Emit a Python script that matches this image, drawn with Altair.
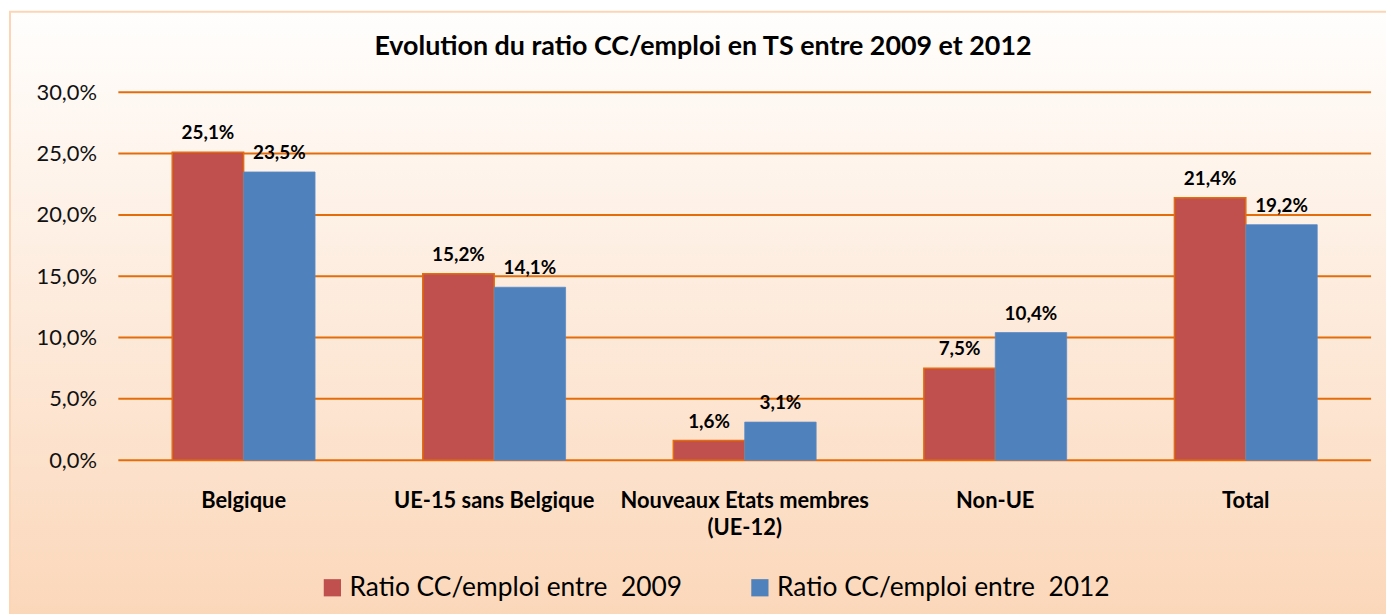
import altair as alt
import pandas as pd

categories = ["Belgique", "UE-15 sans Belgique", "Nouveaux Etats membres\n(UE-12)", "Non-UE", "Total"]
series = ["Ratio CC/emploi entre\u00a0 2009", "Ratio CC/emploi entre\u00a0 2012"]
values_2009 = [25.1, 15.2, 1.6, 7.5, 21.4]
values_2012 = [23.5, 14.1, 3.1, 10.4, 19.2]
y_ticks = [0, 5, 10, 15, 20, 25, 30]
title_text = "Evolution du ratio CC/emploi en TS entre 2009 et 2012"

rows = []
for c, a, b in zip(categories, values_2009, values_2012):
    rows.append({"category": c, "series": series[0], "value": a})
    rows.append({"category": c, "series": series[1], "value": b})
df = pd.DataFrame(rows)

FONT = "Lato"
ORANGE = "#e46c0a"
RED = "#c0504d"
BLUE = "#4f81bd"

bg = alt.Chart(pd.DataFrame({"k": [0]})).mark_rect(
    color=alt.Gradient(
        gradient="linear",
        stops=[alt.GradientStop(color="#fffefd", offset=0),
               alt.GradientStop(color="#fbd5b6", offset=1)],
        x1=0, x2=0, y1=0, y2=1,
    ),
    stroke="#fcd5b5",
    strokeWidth=2,
).encode(
    x=alt.value(-109), x2=alt.value(1300), y=alt.value(-81), y2=alt.value(560)
)

grid = alt.Chart(pd.DataFrame({"tick": y_ticks})).mark_rule(
    color=ORANGE, strokeWidth=2
).encode(y=alt.Y("tick:Q", scale=alt.Scale(domain=[0, 30]), title=None))

xenc = alt.X(
    "category:N",
    sort=categories,
    scale=alt.Scale(paddingInner=0.43, paddingOuter=0.215),
    axis=alt.Axis(
        title=None, labelAngle=0, domain=False, ticks=False, zindex=1,
        labelFont=FONT, labelFontSize=22, labelFontWeight="bold",
        labelColor="black", labelPadding=31, labelLineHeight=27,
        labelLimit=400,
        labelExpr="split(datum.label, '\\n')",
    ),
)

bars = alt.Chart(df).mark_bar().encode(
    x=xenc,
    xOffset=alt.XOffset("series:N", sort=series),
    y=alt.Y(
        "value:Q",
        scale=alt.Scale(domain=[0, 30]),
        axis=alt.Axis(
            values=y_ticks, grid=False, domain=False, ticks=False, title=None,
            zindex=1,
            labelFont=FONT, labelFontSize=22, labelColor="#111",
            labelPadding=22,
            labelExpr="replace(format(datum.value, '.1f'), '.', ',') + '%'",
        ),
    ),
    color=alt.Color(
        "series:N",
        sort=series,
        scale=alt.Scale(domain=series, range=[RED, BLUE]),
        legend=alt.Legend(
            title=None, orient="none", legendX=202, legendY=485,
            direction="horizontal", symbolType="square", symbolSize=300,
            labelFont=FONT, labelFontSize=26.5, labelColor="black",
            labelOffset=4, columnPadding=64, symbolStrokeColor=ORANGE,
            symbolStrokeWidth=0, labelLimit=600, zindex=1,
        ),
    ),
    stroke=alt.condition(alt.datum.series == series[0], alt.value(ORANGE), alt.value("#5a8ac6")),
    strokeWidth=alt.condition(alt.datum.series == series[0], alt.value(1.5), alt.value(0.8)),
)

labels = alt.Chart(df).transform_calculate(
    lab="replace(format(datum.value, '.1f'), '.', ',') + '%'"
).mark_text(
    font=FONT, fontSize=19, fontWeight="bold", color="black", baseline="bottom", dy=-9
).encode(
    x=alt.X("category:N", sort=categories),
    xOffset=alt.XOffset("series:N", sort=series),
    y=alt.Y("value:Q"),
    text="lab:N",
)

chart = alt.layer(bg, grid, bars, labels).properties(
    width=1260,
    height=370,
    padding={"left": 111, "top": 83, "right": 15, "bottom": 153},
    autosize=alt.AutoSizeParams(type="none"),
    title=alt.TitleParams(
        title_text, font=FONT, fontSize=27, fontWeight="bold", color="black",
        anchor="middle", frame="group", baseline="alphabetic", offset=-72, dx=-42,
        zindex=1,
    ),
).configure_view(stroke=None).configure(background="white")

chart.save("out.html", embed_options={"renderer": "svg", "actions": False})
